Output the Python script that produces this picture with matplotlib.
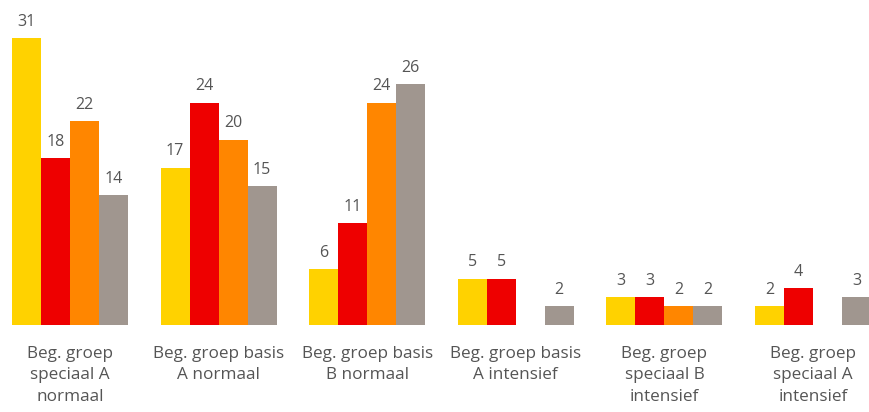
import numpy as np
import matplotlib
matplotlib.use("Agg")
import matplotlib.pyplot as plt

categories = ["Beg. groep\nspeciaal A\nnormaal", "Beg. groep basis\nA normaal",
              "Beg. groep basis\nB normaal", "Beg. groep basis\nA intensief",
              "Beg. groep\nspeciaal B\nintensief", "Beg. groep\nspeciaal A\nintensief"]
series_yellow = [31, 17, 6, 5, 3, 2]
series_red = [18, 24, 11, 5, 3, 4]
series_orange = [22, 20, 24, None, 2, None]
series_gray = [14, 15, 26, 2, 2, 3]

series = [series_yellow, series_red, series_orange, series_gray]
colors = ["#FFD200", "#EE0000", "#FF8600", "#A0968F"]

plt.rcParams['font.family'] = ['Open Sans', 'DejaVu Sans']
fig = plt.figure(figsize=(8.7, 4.12), dpi=100)
ax = fig.add_axes([0, 87/412, 1, 325/412])

gs = 148.6
x = np.arange(len(categories))
w = 29/gs
for i, (vals, c) in enumerate(zip(series, colors)):
    v = np.array([np.nan if a is None else a for a in vals], dtype=float)
    pos = x + (i - 1.5) * w
    ax.bar(pos, v, width=w, color=c, linewidth=0)
    for p, val in zip(pos, vals):
        if val is not None:
            ax.annotate(str(val), (p, val), xytext=(0, 6), textcoords="offset points",
                        ha="center", va="bottom", fontsize=11.5, color="#555555")

ax.set_xlim(-70/gs, 800/gs)
ax.set_ylim(0, 325/9.26)
ax.set_xticks(x)
ax.set_xticklabels(categories, fontsize=12.3, color="#555555", linespacing=1.45)
ax.tick_params(axis='x', length=0, pad=15)
ax.set_yticks([])
for s in ax.spines.values():
    s.set_visible(False)
fig.savefig("out.png", dpi=100)
